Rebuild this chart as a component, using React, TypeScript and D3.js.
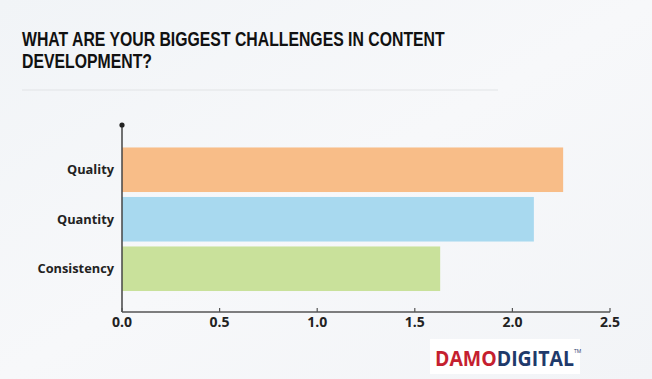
import React, { useEffect, useRef } from "react";
import * as d3 from "d3";

const categories = ["Quality", "Quantity", "Consistency"];
const values = [2.26, 2.11, 1.63];
const colors = ["#f8bd88", "#a8d9ef", "#c9e19b"];
const xTicks = [0, 0.5, 1, 1.5, 2, 2.5];
const titleLines = ["WHAT ARE YOUR BIGGEST CHALLENGES IN CONTENT", "DEVELOPMENT?"];
const titleWidths = [423, 130];

const W = 652;
const H = 379;

function FitText({ x, y, width, children, ...rest }: any) {
  const ref = useRef<SVGTextElement>(null);
  useEffect(() => {
    const el = ref.current;
    if (!el) return;
    el.removeAttribute("transform");
    const len = el.getComputedTextLength();
    if (len > 0) {
      const s = width / len;
      el.setAttribute("transform", `translate(${x},${y}) scale(${s},1)`);
    }
  }, [x, y, width]);
  return (
    <text ref={ref} x={0} y={0} transform={`translate(${x},${y})`} {...rest}>
      {children}
    </text>
  );
}

export default function App() {
  const x = d3.scaleLinear().domain([0, 2.5]).range([122, 610]);
  const y = d3.scaleBand<string>().domain(categories).range([145, 293.5]).paddingInner(0.1).paddingOuter(0.05);
  const axisY = 312;
  return (
    <svg width={W} height={H} style={{ position: "absolute", left: 0, top: 0 }}>
      <defs>
        <linearGradient id="bg" x1="0" y1="0" x2="1" y2="1">
          <stop offset="0" stopColor="#f1f4f7" />
          <stop offset="0.5" stopColor="#f7f8fa" />
          <stop offset="1" stopColor="#f2f4f7" />
        </linearGradient>
      </defs>
      <rect width={W} height={H} fill="url(#bg)" />
      {titleLines.map((t, i) => (
        <FitText key={i} x={22} y={45.7 + i * 22.5} width={titleWidths[i]} fontFamily="'Liberation Sans', Arial, sans-serif"
          fontWeight={700} fontSize={19.5} fill="#111">{t}</FitText>
      ))}
      <line x1={22} x2={498} y1={90} y2={90} stroke="#e2e4e6" strokeWidth={1.2} />
      {categories.map((c, i) => (
        <rect key={c} x={x(0)} y={y(c)} width={x(values[i]) - x(0)} height={y.bandwidth()} fill={colors[i]} />
      ))}
      <line x1={x(0)} x2={x(0)} y1={125} y2={axisY} stroke="#444" strokeWidth={1.5} />
      <circle cx={x(0)} cy={125} r={2.6} fill="#222" />
      <line x1={x(0)} x2={x(2.5)} y1={axisY} y2={axisY} stroke="#555" strokeWidth={1.5} />
      {xTicks.map((t) => (
        <g key={t}>
          <line x1={x(t)} x2={x(t)} y1={axisY} y2={axisY - 4} stroke="#555" strokeWidth={1.2} />
          <text x={x(t)} y={axisY + 15} textAnchor="middle" fontFamily="'Open Sans', sans-serif"
            fontWeight={700} fontSize={14} fill="#222">{t.toFixed(1)}</text>
        </g>
      ))}
      {categories.map((c) => (
        <text key={c} x={114} y={(y(c) as number) + y.bandwidth() / 2 + 4.5} textAnchor="end"
          fontFamily="'Open Sans', sans-serif" fontWeight={700} fontSize={12.8} fill="#222">{c}</text>
      ))}
      <rect x={430} y={339} width={150} height={35} fill="#ffffff" />
      <FitText x={435} y={366} width={139} fontFamily="'Open Sans', sans-serif" fontWeight={700} fontSize={21}>
        <tspan fill="#c51f30">DAMO</tspan><tspan fill="#1f3a6b">DIGITAL</tspan>
      </FitText>
      <text x={574} y={353} fontFamily="'Open Sans', sans-serif" fontSize={5} fill="#1f3a6b">TM</text>
    </svg>
  );
}
